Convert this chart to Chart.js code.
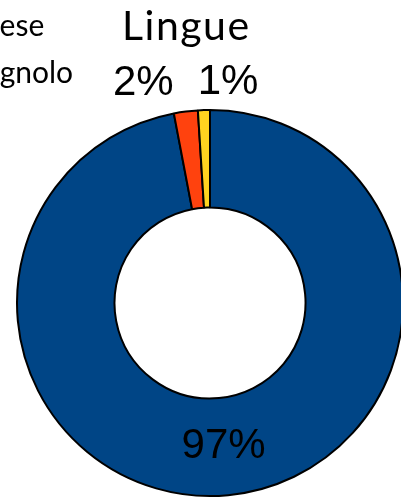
<!DOCTYPE html>
<html>
<head>
<meta charset="utf-8">
<script src="https://cdn.jsdelivr.net/npm/chart.js@4.4.1/dist/chart.umd.min.js"></script>
<style>
  html, body { margin: 0; padding: 0; background: #fff; overflow: hidden; }
  #wrap { position: relative; width: 401px; height: 498px; }
</style>
</head>
<body>
<div id="wrap"><canvas id="c" width="401" height="498"></canvas></div>
<script>
// Share of each language (percent)
const chartTitle = 'Lingue';
const languages = ['Italiano', 'Inglese', 'Spagnolo'];
const shares = [97, 2, 1];
const sliceColors = ['#004586', '#ff420e', '#ffd320'];

// Percentage labels: large slices inside the ring, small ones above it
const sliceLabels = {
  id: 'sliceLabels',
  afterDatasetsDraw(chart, args, opts) {
    const ctx = chart.ctx;
    const meta = chart.getDatasetMeta(0);
    const values = chart.data.datasets[0].data;
    ctx.save();
    ctx.font = opts.font;
    ctx.fillStyle = '#000';
    ctx.textAlign = 'center';
    ctx.textBaseline = 'middle';
    meta.data.forEach((arc, i) => {
      const p = arc.getProps(['x', 'y', 'startAngle', 'endAngle', 'innerRadius', 'outerRadius'], true);
      const mid = (p.startAngle + p.endAngle) / 2;
      const inside = values[i] >= opts.insideMin;
      const r = inside ? (p.innerRadius + p.outerRadius) / 2 : p.outerRadius + opts.outsideGap;
      const lx = p.x + Math.cos(mid) * r + (inside ? 0 : (opts.nudgeX[i] || 0));
      const ly = p.y + Math.sin(mid) * r;
      ctx.fillText(values[i] + '%', lx, ly);
    });
    ctx.restore();
  }
};

// Title and vertical legend drawn on the canvas
const frameText = {
  id: 'frameText',
  afterDraw(chart, args, opts) {
    const ctx = chart.ctx;
    ctx.save();
    ctx.fillStyle = '#000';
    ctx.textBaseline = 'alphabetic';
    ctx.textAlign = 'left';
    ctx.font = opts.titleFont;
    ctx.letterSpacing = opts.titleSpacing;
    ctx.fillText(chartTitle, opts.titleX, opts.titleY);
    ctx.letterSpacing = '0px';

    ctx.font = opts.legendFont;
    const colors = chart.data.datasets[0].backgroundColor;
    chart.data.labels.forEach((lab, i) => {
      const by = opts.legendY + (i - 1) * opts.legendStep;
      ctx.fillStyle = colors[i];
      ctx.fillRect(opts.legendX - 26, by - 16, 16, 16);
      ctx.strokeStyle = '#000';
      ctx.lineWidth = 1;
      ctx.strokeRect(opts.legendX - 26, by - 16, 16, 16);
      ctx.fillStyle = '#000';
      ctx.fillText(lab, opts.legendX, by);
    });
    ctx.restore();
  }
};

new Chart(document.getElementById('c'), {
  type: 'doughnut',
  data: {
    labels: languages,
    datasets: [{
      data: shares,
      backgroundColor: sliceColors,
      borderColor: '#000',
      borderWidth: 2,
      radius: 193,
      cutout: '49.5%'
    }]
  },
  options: {
    responsive: false,
    animation: false,
    layout: { padding: { left: 20, right: 1, top: 108, bottom: 0 } },
    plugins: {
      legend: { display: false },
      title: { display: false },
      tooltip: { enabled: false },
      sliceLabels: {
        font: '42px "Liberation Sans", Arial, sans-serif',
        insideMin: 5,
        outsideGap: 28,
        nudgeX: [0, -39, 25]
      },
      frameText: {
        titleFont: '41px Lato, "Open Sans", sans-serif',
        titleSpacing: '1.5px',
        titleX: 122,
        titleY: 40,
        legendFont: '30px Lato, "Open Sans", sans-serif',
        legendX: -48,
        legendY: 36,
        legendStep: 47
      }
    }
  },
  plugins: [sliceLabels, frameText]
});
</script>
</body>
</html>
